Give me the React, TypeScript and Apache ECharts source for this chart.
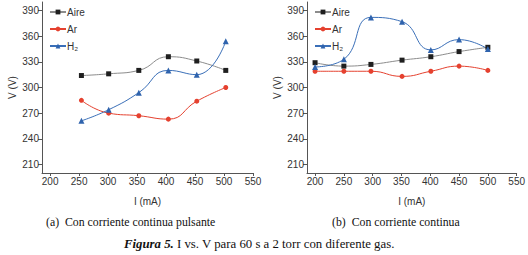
import React, { useEffect, useRef } from "react";
import * as echarts from "echarts";

// Panel (a): corriente continua pulsante
const X_A = [254, 301, 353, 404, 453, 503];
const AIRE_A = [314, 316, 320, 336, 331, 320];
const AR_A = [285, 270, 267, 263, 284, 300];
const H2_A = [261, 274, 294, 320, 315, 354];

// Panel (b): corriente continua
const X_B = [200, 250, 297, 351, 401, 450, 500];
const AIRE_B = [329, 325, 327, 332, 336, 342, 347];
const AR_B = [319, 319, 319, 313, 319, 325, 320];
const H2_B = [324, 333, 382, 377, 344, 356, 345];

const X_TICKS = [200, 250, 300, 350, 400, 450, 500, 550];
const Y_TICKS = [210, 240, 270, 300, 330, 360, 390];
const SERIES_NAMES = ["Aire", "Ar", "H₂"];

const SANS = "Liberation Sans, Arial, sans-serif";
const SERIF = "Liberation Serif, Times New Roman, serif";
const AXIS_COLOR = "#555";
const TEXT_COLOR = "#333";

const COLORS = {
  aire: { mark: "#1f1f1f", line: "#8c8c8c" },
  ar: { mark: "#e5412f", line: "#e5412f" },
  h2: { mark: "#2f63ad", line: "#3a6fb8" },
};

function pairs(xs: number[], ys: number[]) {
  return xs.map((x, i) => [x, ys[i]]);
}

function makeSeries(idx: number, xs: number[], aire: number[], ar: number[], h2: number[]) {
  const common = {
    type: "line",
    xAxisIndex: idx,
    yAxisIndex: idx,
    smooth: 0.5,
    symbolSize: 5,
  };
  return [
    {
      ...common,
      name: SERIES_NAMES[0],
      symbol: "rect",
      data: pairs(xs, aire),
      itemStyle: { color: COLORS.aire.mark },
      lineStyle: { color: COLORS.aire.line, width: 1 },
    },
    {
      ...common,
      name: SERIES_NAMES[1],
      symbol: "circle",
      data: pairs(xs, ar),
      itemStyle: { color: COLORS.ar.mark },
      lineStyle: { color: COLORS.ar.line, width: 1 },
    },
    {
      ...common,
      name: SERIES_NAMES[2],
      symbol: "triangle",
      symbolSize: 6,
      data: pairs(xs, h2),
      itemStyle: { color: COLORS.h2.mark },
      lineStyle: { color: COLORS.h2.line, width: 1 },
    },
  ];
}

function xAxis(idx: number) {
  return {
    type: "value",
    gridIndex: idx,
    min: 186,
    max: 550,
    name: "I (mA)",
    nameLocation: "middle",
    nameGap: 23,
    nameTextStyle: { fontFamily: SANS, fontSize: 10, color: TEXT_COLOR },
    splitLine: { show: false },
    axisLine: { lineStyle: { color: AXIS_COLOR, width: 1 } },
    axisTick: { customValues: X_TICKS, length: 3, lineStyle: { color: AXIS_COLOR } },
    axisLabel: {
      customValues: X_TICKS,
      fontFamily: SANS,
      fontSize: 10,
      color: TEXT_COLOR,
      margin: 3,
    },
  };
}

function yAxis(idx: number) {
  return {
    type: "value",
    gridIndex: idx,
    min: 200,
    max: 400,
    name: "V (V)",
    nameLocation: "middle",
    nameGap: 25,
    nameTextStyle: { fontFamily: SANS, fontSize: 10, color: TEXT_COLOR },
    splitLine: { show: false },
    axisLine: { lineStyle: { color: AXIS_COLOR, width: 1 } },
    axisTick: { customValues: Y_TICKS, length: 4, lineStyle: { color: AXIS_COLOR } },
    axisLabel: {
      customValues: Y_TICKS,
      fontFamily: SANS,
      fontSize: 10,
      color: TEXT_COLOR,
      margin: 3,
    },
  };
}

function legend(left: number) {
  return {
    orient: "vertical",
    left,
    top: 2,
    itemWidth: 16,
    itemHeight: 6,
    itemGap: 7,
    data: SERIES_NAMES,
    textStyle: { fontFamily: SANS, fontSize: 10, color: TEXT_COLOR, padding: [0, 0, 0, -4] },
  };
}

export default function App() {
  const ref = useRef<HTMLDivElement>(null);
  useEffect(() => {
    if (!ref.current) return;
    const chart = echarts.init(ref.current, undefined, { renderer: "svg" });
    chart.setOption({
      animation: false,
      backgroundColor: "#ffffff",
      grid: [
        { left: 42, top: 2, width: 211, height: 171 },
        { left: 307, top: 2, width: 211, height: 171 },
      ],
      xAxis: [xAxis(0), xAxis(1)],
      yAxis: [yAxis(0), yAxis(1)],
      legend: [legend(44), legend(309)],
      series: [
        ...makeSeries(0, X_A, AIRE_A, AR_A, H2_A),
        ...makeSeries(1, X_B, AIRE_B, AR_B, H2_B),
      ],
      graphic: [
        {
          type: "text",
          left: 46,
          top: 216,
          style: {
            text: "(a)  Con corriente continua pulsante",
            font: `11.8px ${SERIF}`,
            fill: "#111",
          },
        },
        {
          type: "text",
          left: 332,
          top: 216,
          style: {
            text: "(b)  Con corriente continua",
            font: `11.8px ${SERIF}`,
            fill: "#111",
          },
        },
        {
          type: "text",
          left: 124,
          top: 237,
          style: {
            text: "{b|Figura 5.} I vs. V para 60 s a 2 torr con diferente gas.",
            font: `12.8px ${SERIF}`,
            fill: "#111",
            rich: {
              b: {
                fontFamily: SERIF,
                fontSize: 12.8,
                fontWeight: "bold",
                fontStyle: "italic",
                fill: "#111",
              },
            },
          },
        },
      ],
    });
    return () => chart.dispose();
  }, []);
  return (
    <div
      ref={ref}
      style={{ position: "fixed", left: 0, top: 0, width: 528, height: 255, background: "#fff" }}
    />
  );
}
